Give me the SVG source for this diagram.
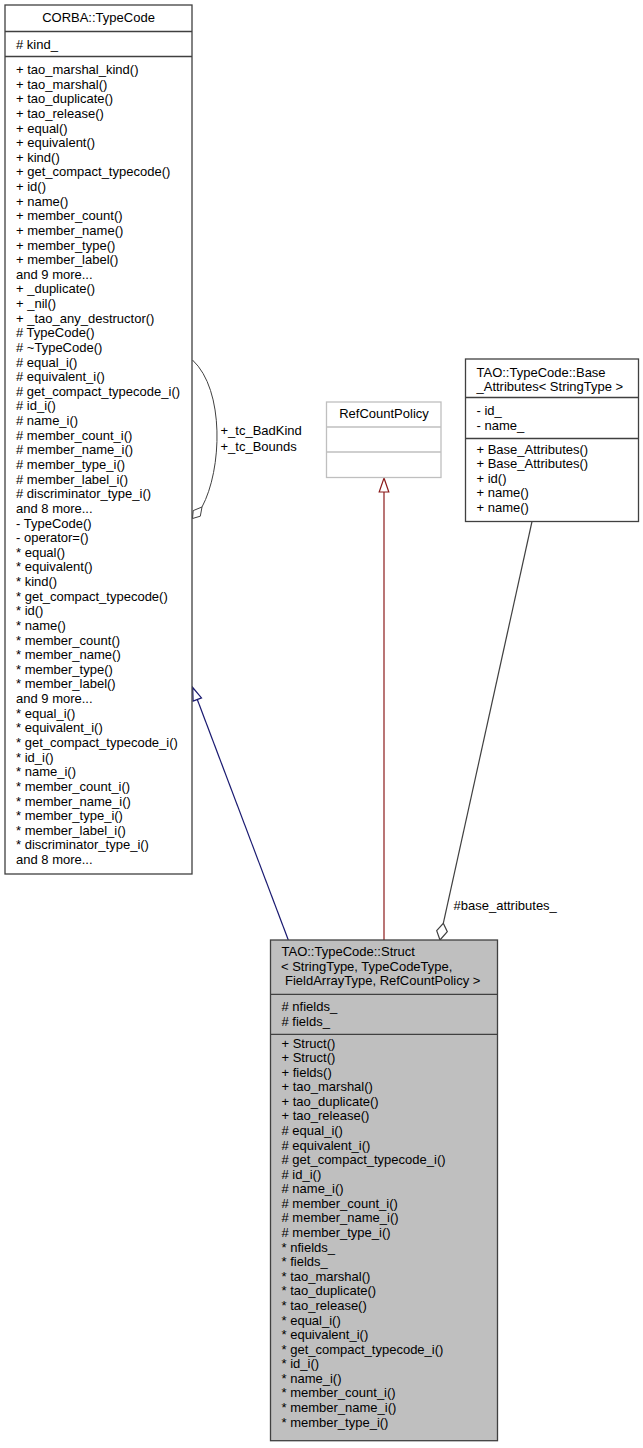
<svg xmlns="http://www.w3.org/2000/svg" width="643" height="1448" viewBox="0 0 643 1448">
<style>
text{font-family:"Liberation Sans",Arial,Helvetica,sans-serif;font-size:13px;fill:#000}
.box{fill:#fff;stroke:#404040;stroke-width:1.3}
.sep{stroke:#404040;stroke-width:1.3}
.gbox{fill:#fff;stroke:#bfbfbf;stroke-width:1.3}
.gsep{stroke:#bfbfbf;stroke-width:1.3}
.sbox{fill:#bfbfbf;stroke:#404040;stroke-width:1.3}
.mid{text-anchor:middle}
</style>
<rect width="643" height="1448" fill="#fff"/>
<g id="edges">
<path d="M192.5,360 C225,390 222,470 202,507" fill="none" stroke="#404040" stroke-width="1"/>
<polygon points="192.5,518.5 193.2,510.6 202,507 200.3,516.2" fill="#fff" stroke="#404040" stroke-width="1"/>
<text x="220.5" y="435">+_tc_BadKind</text>
<text x="220.5" y="450.5">+_tc_Bounds</text>
<line x1="288.3" y1="940" x2="197.3" y2="699.5" stroke="#191970" stroke-width="1.2"/>
<polygon points="192.7,687.5 201.5,697.9 193.1,701.1" fill="#fff" stroke="#191970" stroke-width="1.2"/>
<line x1="384" y1="940" x2="384" y2="492" stroke="#8b1a1a" stroke-width="1.2"/>
<polygon points="384,478 388.8,492 379.2,492" fill="#fff" stroke="#8b1a1a" stroke-width="1.2"/>
<line x1="532" y1="521.5" x2="443.3" y2="923.3" stroke="#404040" stroke-width="1.2"/>
<polygon points="443.3,923.3 447.3,931.7 440,940 436.7,930.7" fill="#fff" stroke="#404040" stroke-width="1.2"/>
<text x="453.5" y="909.5">#base_attributes_</text>
</g>
<g id="corba_typecode">
<rect class="box" x="5" y="5" width="187" height="869"/>
<line class="sep" x1="5" y1="31.5" x2="192" y2="31.5"/>
<line class="sep" x1="5" y1="56.5" x2="192" y2="56.5"/>
<text class="mid" x="98.5" y="22">CORBA::TypeCode</text>
<text x="16" y="48.5"># kind_</text>
<text x="16" y="74">+ tao_marshal_kind()</text>
<text x="16" y="88.63">+ tao_marshal()</text>
<text x="16" y="103.26">+ tao_duplicate()</text>
<text x="16" y="117.89">+ tao_release()</text>
<text x="16" y="132.52">+ equal()</text>
<text x="16" y="147.15">+ equivalent()</text>
<text x="16" y="161.78">+ kind()</text>
<text x="16" y="176.41">+ get_compact_typecode()</text>
<text x="16" y="191.04">+ id()</text>
<text x="16" y="205.67">+ name()</text>
<text x="16" y="220.3">+ member_count()</text>
<text x="16" y="234.93">+ member_name()</text>
<text x="16" y="249.56">+ member_type()</text>
<text x="16" y="264.19">+ member_label()</text>
<text x="16" y="278.82">and 9 more...</text>
<text x="16" y="293.45">+ _duplicate()</text>
<text x="16" y="308.08">+ _nil()</text>
<text x="16" y="322.71">+ _tao_any_destructor()</text>
<text x="16" y="337.34"># TypeCode()</text>
<text x="16" y="351.97"># ~TypeCode()</text>
<text x="16" y="366.6"># equal_i()</text>
<text x="16" y="381.23"># equivalent_i()</text>
<text x="16" y="395.86"># get_compact_typecode_i()</text>
<text x="16" y="410.49"># id_i()</text>
<text x="16" y="425.12"># name_i()</text>
<text x="16" y="439.75"># member_count_i()</text>
<text x="16" y="454.38"># member_name_i()</text>
<text x="16" y="469.01"># member_type_i()</text>
<text x="16" y="483.64"># member_label_i()</text>
<text x="16" y="498.27"># discriminator_type_i()</text>
<text x="16" y="512.9">and 8 more...</text>
<text x="16" y="527.53">- TypeCode()</text>
<text x="16" y="542.16">- operator=()</text>
<text x="16" y="556.79">* equal()</text>
<text x="16" y="571.42">* equivalent()</text>
<text x="16" y="586.05">* kind()</text>
<text x="16" y="600.68">* get_compact_typecode()</text>
<text x="16" y="615.31">* id()</text>
<text x="16" y="629.94">* name()</text>
<text x="16" y="644.57">* member_count()</text>
<text x="16" y="659.2">* member_name()</text>
<text x="16" y="673.83">* member_type()</text>
<text x="16" y="688.46">* member_label()</text>
<text x="16" y="703.09">and 9 more...</text>
<text x="16" y="717.72">* equal_i()</text>
<text x="16" y="732.35">* equivalent_i()</text>
<text x="16" y="746.98">* get_compact_typecode_i()</text>
<text x="16" y="761.61">* id_i()</text>
<text x="16" y="776.24">* name_i()</text>
<text x="16" y="790.87">* member_count_i()</text>
<text x="16" y="805.5">* member_name_i()</text>
<text x="16" y="820.13">* member_type_i()</text>
<text x="16" y="834.76">* member_label_i()</text>
<text x="16" y="849.39">* discriminator_type_i()</text>
<text x="16" y="864.02">and 8 more...</text>
</g>
<g id="refcountpolicy">
<rect class="gbox" x="326.5" y="402" width="114.5" height="75.5"/>
<line class="gsep" x1="326.5" y1="427" x2="441" y2="427"/>
<line class="gsep" x1="326.5" y1="452" x2="441" y2="452"/>
<text class="mid" x="384" y="418">RefCountPolicy</text>
</g>
<g id="base_attributes">
<rect class="box" x="465.5" y="359" width="173" height="162.5"/>
<line class="sep" x1="465.5" y1="397.5" x2="638.5" y2="397.5"/>
<line class="sep" x1="465.5" y1="438.5" x2="638.5" y2="438.5"/>
<text x="476.5" y="376.5">TAO::TypeCode::Base</text>
<text x="476.5" y="391">_Attributes&lt; StringType &gt;</text>
<text x="476.5" y="415">- id_</text>
<text x="476.5" y="429.5">- name_</text>
<text x="476.5" y="453.5">+ Base_Attributes()</text>
<text x="476.5" y="468.1">+ Base_Attributes()</text>
<text x="476.5" y="482.7">+ id()</text>
<text x="476.5" y="497.3">+ name()</text>
<text x="476.5" y="511.9">+ name()</text>
</g>
<g id="struct">
<rect class="sbox" x="270.5" y="940" width="227" height="500.7"/>
<line class="sep" x1="270.5" y1="994.3" x2="497.5" y2="994.3"/>
<line class="sep" x1="270.5" y1="1034.3" x2="497.5" y2="1034.3"/>
<text x="281.5" y="956">TAO::TypeCode::Struct</text>
<text x="281" y="970.6">&lt; StringType, TypeCodeType,</text>
<text x="285" y="985.2">FieldArrayType, RefCountPolicy &gt;</text>
<text x="281.5" y="1011"># nfields_</text>
<text x="281.5" y="1025.6"># fields_</text>
<text x="281.5" y="1047.5">+ Struct()</text>
<text x="281.5" y="1062.08">+ Struct()</text>
<text x="281.5" y="1076.66">+ fields()</text>
<text x="281.5" y="1091.24">+ tao_marshal()</text>
<text x="281.5" y="1105.82">+ tao_duplicate()</text>
<text x="281.5" y="1120.4">+ tao_release()</text>
<text x="281.5" y="1134.98"># equal_i()</text>
<text x="281.5" y="1149.56"># equivalent_i()</text>
<text x="281.5" y="1164.14"># get_compact_typecode_i()</text>
<text x="281.5" y="1178.72"># id_i()</text>
<text x="281.5" y="1193.3"># name_i()</text>
<text x="281.5" y="1207.88"># member_count_i()</text>
<text x="281.5" y="1222.46"># member_name_i()</text>
<text x="281.5" y="1237.04"># member_type_i()</text>
<text x="281.5" y="1251.62">* nfields_</text>
<text x="281.5" y="1266.2">* fields_</text>
<text x="281.5" y="1280.78">* tao_marshal()</text>
<text x="281.5" y="1295.36">* tao_duplicate()</text>
<text x="281.5" y="1309.94">* tao_release()</text>
<text x="281.5" y="1324.52">* equal_i()</text>
<text x="281.5" y="1339.1">* equivalent_i()</text>
<text x="281.5" y="1353.68">* get_compact_typecode_i()</text>
<text x="281.5" y="1368.26">* id_i()</text>
<text x="281.5" y="1382.84">* name_i()</text>
<text x="281.5" y="1397.42">* member_count_i()</text>
<text x="281.5" y="1412">* member_name_i()</text>
<text x="281.5" y="1426.58">* member_type_i()</text>
</g>
</svg>
